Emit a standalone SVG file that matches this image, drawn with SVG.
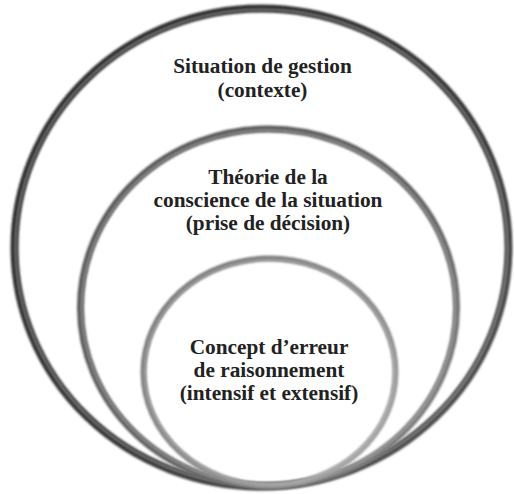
<svg xmlns="http://www.w3.org/2000/svg" width="514" height="494" viewBox="0 0 514 494">
<defs>
<filter id="soft" x="-5%" y="-5%" width="110%" height="110%"><feGaussianBlur stdDeviation="0.9"/></filter>
<linearGradient id="gOuter" x1="0" y1="0" x2="1" y2="1"><stop offset="0" stop-color="#2e2e2e"/><stop offset="0.6" stop-color="#3a3a3a"/><stop offset="1" stop-color="#5a5a5a"/></linearGradient>
<linearGradient id="gMid" x1="0" y1="0" x2="1" y2="1"><stop offset="0" stop-color="#555"/><stop offset="0.6" stop-color="#646464"/><stop offset="1" stop-color="#8a8a8a"/></linearGradient>
<linearGradient id="gIn" x1="0" y1="0" x2="1" y2="1"><stop offset="0" stop-color="#777"/><stop offset="0.6" stop-color="#8a8a8a"/><stop offset="1" stop-color="#adadad"/></linearGradient>
</defs>
<style>
.ring{fill:none;filter:url(#soft)}
.hl{fill:none;stroke:#c4c4c4;stroke-width:1.5;opacity:0.6;filter:url(#soft)}
.t{font-family:'Liberation Serif','Times New Roman',serif;font-weight:bold;font-size:21.3px;fill:#222;text-anchor:middle}
</style>
<rect width="514" height="494" fill="#fff"/>
<g id="outer">
<ellipse class="ring" cx="261.5" cy="247.5" rx="247" ry="239" stroke="url(#gOuter)" stroke-width="8"/>
<ellipse class="hl" cx="261.5" cy="247.5" rx="246" ry="238"/>
<text class="t" x="262.5" y="73">Situation de gestion</text>
<text class="t" x="262.5" y="97">(contexte)</text>
</g>
<g id="middle">
<ellipse class="ring" cx="268.5" cy="307.5" rx="188" ry="178.5" stroke="url(#gMid)" stroke-width="7"/>
<ellipse class="hl" cx="268.5" cy="307.5" rx="187" ry="177.5"/>
<text class="t" x="268" y="184">Théorie de la</text>
<text class="t" x="268" y="207">conscience de la situation</text>
<text class="t" x="268" y="230">(prise de décision)</text>
</g>
<g id="inner">
<ellipse class="ring" cx="269.5" cy="372" rx="126" ry="113.5" stroke="url(#gIn)" stroke-width="6"/>
<ellipse class="hl" cx="269.5" cy="372" rx="125" ry="112.5"/>
<text class="t" x="269" y="354">Concept d’erreur</text>
<text class="t" x="269" y="377">de raisonnement</text>
<text class="t" x="269" y="400">(intensif et extensif)</text>
</g>
<g id="connectors"/>
</svg>
